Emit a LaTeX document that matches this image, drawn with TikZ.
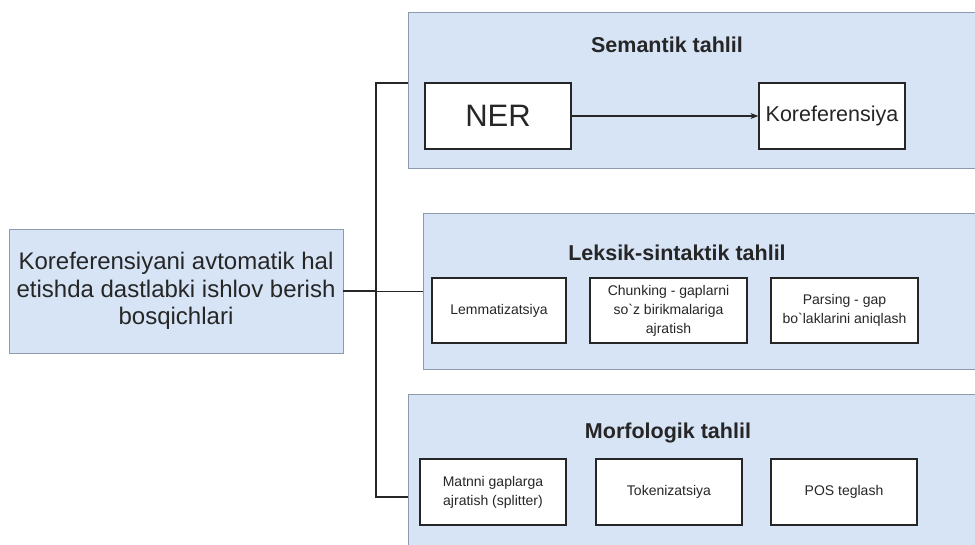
\documentclass[tikz,border=0pt]{standalone}
\usepackage{fontspec}
\setmainfont{Liberation Sans}
\usepackage{xcolor}
\usetikzlibrary{positioning,arrows.meta}

\definecolor{grpfill}{HTML}{D6E4F6}
\definecolor{grpline}{HTML}{8C9BAE}
\definecolor{inkline}{HTML}{262626}

\begin{document}
\begin{tikzpicture}[x=1pt, y=-1pt,
    group/.style={draw=grpline, fill=grpfill, line width=0.9pt, inner sep=0pt},
    task/.style={draw=inkline, fill=white, line width=1.2pt, align=center,
        inner sep=0pt, minimum height=66pt, text=inkline,
        font=\fontsize{14}{19}\selectfont},
    title/.style={font=\bfseries\fontsize{21.5}{24}\selectfont, text=inkline},
    link/.style={draw=inkline, line width=2pt}]

    \useasboundingbox (0, 0) rectangle (975, 544);
    \clip (0, 0) rectangle (975, 544);

    % stage groups
    \node[group, minimum width=582pt, minimum height=156pt] (sem) at (699, 90) {};
    \node[group, minimum width=567pt, minimum height=156pt] (lex) at (706.5, 291) {};
    \node[group, minimum width=582pt, minimum height=166pt] (mor) at (699, 477) {};

    \node[title] (semt) at (667, 45) {Semantik tahlil};
    \node[title] (lext) at (677, 253) {Leksik-sintaktik tahlil};
    \node[title] (mort) at (668, 433) {Morfologik tahlil};

    % root
    \node[group, align=center, minimum width=334pt, minimum height=124pt,
        font=\fontsize{24}{27.5}\selectfont, text=inkline] (root) at (176, 291)
        {Koreferensiyani avtomatik hal\\etishda dastlabki ishlov berish\\bosqichlari};

    % tasks
    \node[task, minimum width=146pt, font=\fontsize{31}{34}\selectfont] (ner) at (498, 116) {NER};
    \node[task, minimum width=146pt, font=\fontsize{21.5}{24}\selectfont] (koref) at (832, 116) {Koreferensiya};

    \node[task, minimum width=134pt, minimum height=65pt] (lemma) at (499, 310.5) {Lemmatizatsiya};
    \node[task, minimum width=157pt, minimum height=65pt] (chunk) at (668.5, 310.5)
        {Chunking - gaplarni\\so\textasciigrave z birikmalariga\\ajratish};
    \node[task, minimum width=147pt, minimum height=65pt] (pars) at (844.5, 310.5)
        {Parsing - gap\\bo\textasciigrave laklarini aniqlash};

    \node[task, minimum width=146pt] (split) at (493, 492) {Matnni gaplarga\\ajratish (splitter)};
    \node[task, minimum width=146pt] (token) at (669, 492) {Tokenizatsiya};
    \node[task, minimum width=146pt] (pos) at (844, 492) {POS teglash};

    % connectors
    \coordinate (hub) at (375.5, 291);
    \coordinate (jsem) at (sem.west |- 0, 83);
    \coordinate (jmor) at (mor.west |- 0, 497);

    \draw[link] (root.east) -- (hub);
    \draw[link] (hub) |- (jsem);
    \draw[link] (hub) |- (jmor);
    \draw[inkline, line width=1pt] (hub) -- (lex.west |- hub);

    \path[->, >={Stealth[length=8pt, width=6pt]}]
        (ner) edge[inkline, line width=1.2pt] (koref);
\end{tikzpicture}
\end{document}
